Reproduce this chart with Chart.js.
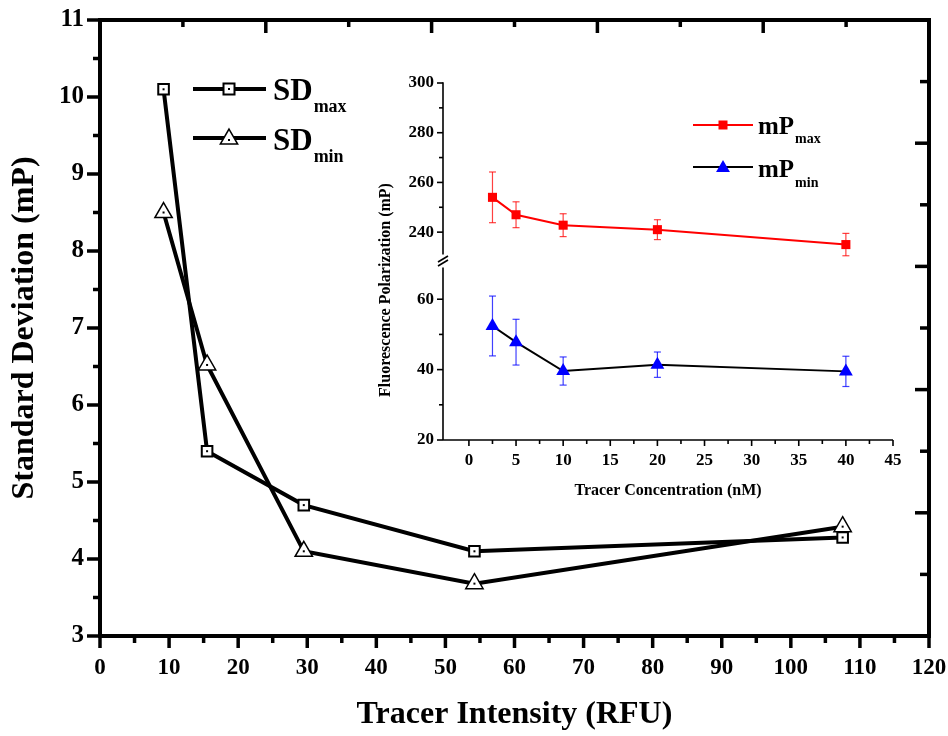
<!DOCTYPE html>
<html>
<head>
<meta charset="utf-8">
<script src="https://cdn.jsdelivr.net/npm/chart.js@4.4.1/dist/chart.umd.min.js"></script>
<style>
  html, body { margin: 0; padding: 0; background: #fff; }
  #contenedor { position: relative; width: 948px; height: 736px; }
  #principal { position: absolute; left: 0; top: 0; }
  #inserto { position: absolute; left: 360px; top: 60px; }
</style>
</head>
<body>
<div id="contenedor">
  <canvas id="principal" width="948" height="736"></canvas>
  <canvas id="inserto" width="560" height="450"></canvas>
</div>
<script>
const fuente = '"Liberation Serif", "Times New Roman", serif';

//1. Datos de la gráfica principal (desviación estándar)
const intensidad = [9.2, 15.5, 29.5, 54.2, 107.5];
const sdMax = [10.1, 5.4, 4.7, 4.1, 4.28];
const sdMin = [8.5, 6.52, 4.1, 3.68, 4.42];

//Datos del gráfico interior (polarización)
const concentracion = [2.5, 5, 10, 20, 40];
const mpMax = [254, 247, 242.8, 241, 235];
const mpMaxErr = [10.2, 5.2, 4.6, 4, 4.5];
const mpMin = [52.4, 47.8, 39.6, 41.4, 39.5];
const mpMinErr = [8.5, 6.5, 4, 3.6, 4.3];

//Etiquetas de los ejes
const ticksConc = [0, 5, 10, 15, 20, 25, 30, 35, 40, 45];
const ticksAlto = [240, 260, 280, 300];
const ticksBajo = [20, 40, 60];

function linea(ctx, x1, y1, x2, y2) {
    ctx.beginPath();
    ctx.moveTo(x1, y1);
    ctx.lineTo(x2, y2);
    ctx.stroke();
}

function cuadrado(ctx, x, y, lado, relleno, borde, grosor) {
    ctx.fillStyle = relleno;
    ctx.fillRect(x - lado / 2, y - lado / 2, lado, lado);
    if (grosor) {
        ctx.strokeStyle = borde;
        ctx.lineWidth = grosor;
        ctx.strokeRect(x - lado / 2, y - lado / 2, lado, lado);
    }
}

function triangulo(ctx, x, y, r, relleno, borde, grosor) {
    ctx.beginPath();
    for (let k = 0; k < 3; k++) {
        const ang = k * 2 * Math.PI / 3;
        ctx.lineTo(x + Math.sin(ang) * r, y - Math.cos(ang) * r);
    }
    ctx.closePath();
    ctx.fillStyle = relleno;
    ctx.fill();
    if (grosor) {
        ctx.strokeStyle = borde;
        ctx.lineWidth = grosor;
        ctx.stroke();
    }
}

function textoSub(ctx, x, y, base, sub, tamBase, tamSub, bajada) {
    ctx.fillStyle = "#000";
    ctx.textAlign = "left";
    ctx.textBaseline = "alphabetic";
    ctx.font = "bold " + tamBase + "px " + fuente;
    ctx.fillText(base, x, y);
    const ancho = ctx.measureText(base).width;
    ctx.font = "bold " + tamSub + "px " + fuente;
    ctx.fillText(sub, x + ancho + 1, y + bajada);
}

//2. Plugin de ejes y leyenda de la gráfica principal
const ejesPrincipal = {
    id: "ejesPrincipal",
    afterDatasetsDraw(chart) {
        const ctx = chart.ctx;
        ctx.save();
        ctx.fillStyle = "#000";
        chart.data.datasets.forEach((ds, i) => {
            chart.getDatasetMeta(i).data.forEach((p) => ctx.fillRect(p.x - 1, p.y - 1, 2, 2));
        });
        ctx.restore();
    },
    afterDraw(chart) {
        const { ctx, chartArea: a, scales: { x, y } } = chart;
        ctx.save();
        ctx.strokeStyle = "#000";
        ctx.lineWidth = 4;
        ctx.strokeRect(a.left, a.top, a.right - a.left, a.bottom - a.top);
        ctx.lineWidth = 3.5;
        for (let v = 0; v <= 120; v += 5) {
            const px = x.getPixelForValue(v);
            linea(ctx, px, a.bottom, px, a.bottom + (v % 10 === 0 ? 12 : 7));
        }
        for (let v = 3; v <= 11; v += 0.5) {
            const py = y.getPixelForValue(v);
            linea(ctx, a.left, py, a.left - (Number.isInteger(v) ? 13 : 7), py);
        }
        //Ejes superior y derecho (marcas hacia dentro)
        for (let k = 1; k < 10; k++) {
            const px = a.left + (a.right - a.left) * k / 10;
            linea(ctx, px, a.top, px, a.top + (k % 2 === 0 ? 13 : 7));
            const py = a.bottom - (a.bottom - a.top) * k / 10;
            linea(ctx, a.right, py, a.right - (k % 2 === 0 ? 14 : 9), py);
        }

        //Leyenda
        ctx.lineWidth = 4;
        linea(ctx, 193, 89, 266, 89);
        cuadrado(ctx, 229, 89, 11, "#fff", "#000", 2);
        ctx.fillStyle = "#000";
        ctx.fillRect(228, 88, 2, 2);
        ctx.lineWidth = 4;
        ctx.strokeStyle = "#000";
        linea(ctx, 193, 138, 266, 138);
        triangulo(ctx, 229, 139, 10, "#fff", "#000", 1.5);
        ctx.fillStyle = "#000";
        ctx.fillRect(228, 139, 2, 2);
        textoSub(ctx, 273, 100, "SD", "max", 31, 18, 12);
        textoSub(ctx, 273, 150, "SD", "min", 31, 18, 12);
        ctx.restore();
    }
};

new Chart(document.getElementById("principal"), {
    type: "line",
    data: {
        datasets: [{
            label: "SDmax",
            data: intensidad.map((x, i) => ({ x: x, y: sdMax[i] })),
            borderColor: "#000",
            borderWidth: 4,
            pointStyle: "rect",
            pointRadius: 7.5,
            pointBackgroundColor: "#fff",
            pointBorderColor: "#000",
            pointBorderWidth: 2,
        }, {
            label: "SDmin",
            data: intensidad.map((x, i) => ({ x: x, y: sdMin[i] })),
            borderColor: "#000",
            borderWidth: 4,
            pointStyle: "triangle",
            pointRadius: 10,
            pointBackgroundColor: "#fff",
            pointBorderColor: "#000",
            pointBorderWidth: 1.5,
        }]
    },
    options: {
        responsive: false,
        animation: false,
        layout: { padding: { top: 20, right: 19, left: 0, bottom: 0 } },
        plugins: { legend: { display: false }, tooltip: { enabled: false } },
        scales: {
            x: {
                type: "linear",
                min: 0,
                max: 120,
                grid: { display: false, drawTicks: false },
                border: { display: false },
                ticks: { stepSize: 10, padding: 18, color: "#000", font: { family: fuente, size: 23, weight: "bold" } },
                title: {
                    display: true,
                    text: "Tracer Intensity (RFU)",
                    color: "#000",
                    font: { family: fuente, size: 32, weight: "bold" },
                    padding: { top: 0, bottom: 2 }
                },
                afterFit: (s) => { s.height = 100; s.paddingLeft = 0; s.paddingRight = 0; }
            },
            y: {
                type: "linear",
                min: 3,
                max: 11,
                grid: { display: false, drawTicks: false },
                border: { display: false },
                ticks: { stepSize: 1, padding: 16, color: "#000", font: { family: fuente, size: 25, weight: "bold" } },
                title: {
                    display: true,
                    text: "Standard Deviation (mP)",
                    color: "#000",
                    font: { family: fuente, size: 32, weight: "bold" },
                    padding: { top: 6, bottom: 0 }
                },
                afterFit: (s) => { s.width = 100; s.paddingTop = 0; s.paddingBottom = 0; }
            }
        }
    },
    plugins: [ejesPrincipal]
});

//3. Gráfico interior con eje Y partido
const ejesInserto = {
    id: "ejesInserto",
    beforeDatasetsDraw(chart) {
        const ctx = chart.ctx;
        ctx.save();
        chart.data.datasets.forEach((ds, i) => {
            const escala = chart.scales[ds.yAxisID];
            ctx.strokeStyle = ds.colorError;
            ctx.lineWidth = 1.2;
            chart.getDatasetMeta(i).data.forEach((p, j) => {
                const v = ds.data[j].y;
                const yA = escala.getPixelForValue(v + ds.errores[j]);
                const yB = escala.getPixelForValue(v - ds.errores[j]);
                linea(ctx, p.x, yA, p.x, yB);
                linea(ctx, p.x - 3.5, yA, p.x + 3.5, yA);
                linea(ctx, p.x - 3.5, yB, p.x + 3.5, yB);
            });
        });
        ctx.restore();
    },
    afterDraw(chart) {
        const { ctx, chartArea: a, scales } = chart;
        const x = scales.x, yA = scales.yAlto, yB = scales.yBajo;
        ctx.save();
        ctx.strokeStyle = "#000";
        ctx.lineWidth = 1.6;
        linea(ctx, a.left, a.bottom, a.right, a.bottom);
        linea(ctx, a.left, yA.getPixelForValue(300) - 0.8, a.left, yA.getPixelForValue(231));
        linea(ctx, a.left, yB.getPixelForValue(69), a.left, a.bottom);
        //Marcas de corte
        const yc = (yA.getPixelForValue(231) + yB.getPixelForValue(69)) / 2;
        linea(ctx, a.left - 5, yc + 1, a.left + 5, yc - 5);
        linea(ctx, a.left - 5, yc + 5, a.left + 5, yc - 1);

        for (let v = 0; v <= 45; v += 2.5) {
            const px = x.getPixelForValue(v);
            linea(ctx, px, a.bottom, px, a.bottom + (v % 5 === 0 ? 6 : 4));
        }
        for (let v = 240; v <= 300; v += 10) {
            const py = yA.getPixelForValue(v);
            linea(ctx, a.left, py, a.left - (v % 20 === 0 ? 6 : 4), py);
        }
        for (let v = 20; v <= 60; v += 10) {
            const py = yB.getPixelForValue(v);
            linea(ctx, a.left, py, a.left - (v % 20 === 0 ? 6 : 4), py);
        }

        //Título del eje Y
        ctx.save();
        ctx.translate(26, 230);
        ctx.rotate(-Math.PI / 2);
        ctx.fillStyle = "#000";
        ctx.font = "bold 16px " + fuente;
        ctx.textAlign = "center";
        ctx.textBaseline = "middle";
        ctx.fillText("Fluorescence Polarization (mP)", 0, 0);
        ctx.restore();

        //Leyenda
        ctx.lineWidth = 2;
        ctx.strokeStyle = "#ff0000";
        linea(ctx, 333, 65, 393, 65);
        cuadrado(ctx, 363, 65, 9, "#ff0000");
        ctx.strokeStyle = "#000";
        linea(ctx, 333, 107, 393, 107);
        triangulo(ctx, 363, 108, 8, "#0000ff");
        textoSub(ctx, 398, 74, "mP", "max", 25, 14, 9);
        textoSub(ctx, 398, 117, "mP", "min", 25, 14, 10);
        ctx.restore();
    }
};

const fuenteInserto = { family: fuente, size: 17, weight: "bold" };

new Chart(document.getElementById("inserto"), {
    type: "line",
    data: {
        datasets: [{
            label: "mPmax",
            data: concentracion.map((x, i) => ({ x: x, y: mpMax[i] })),
            errores: mpMaxErr,
            colorError: "rgba(255,0,0,0.75)",
            yAxisID: "yAlto",
            borderColor: "#ff0000",
            borderWidth: 2,
            pointStyle: "rect",
            pointRadius: 6.4,
            pointBackgroundColor: "#ff0000",
            pointBorderColor: "#ff0000",
            pointBorderWidth: 0,
        }, {
            label: "mPmin",
            data: concentracion.map((x, i) => ({ x: x, y: mpMin[i] })),
            errores: mpMinErr,
            colorError: "rgba(0,0,255,0.75)",
            yAxisID: "yBajo",
            borderColor: "#000",
            borderWidth: 2,
            pointStyle: "triangle",
            pointRadius: 8,
            pointBackgroundColor: "#0000ff",
            pointBorderColor: "#0000ff",
            pointBorderWidth: 0,
        }]
    },
    options: {
        responsive: false,
        animation: false,
        layout: { padding: { top: 23, right: 27, left: 0, bottom: 0 } },
        plugins: { legend: { display: false }, tooltip: { enabled: false } },
        scales: {
            x: {
                type: "linear",
                min: -2.75,
                max: 45,
                afterBuildTicks: (s) => { s.ticks = ticksConc.map((v) => ({ value: v })); },
                grid: { display: false, drawTicks: false },
                border: { display: false },
                ticks: { padding: 10, color: "#000", font: fuenteInserto },
                title: {
                    display: true,
                    text: "Tracer Concentration (nM)",
                    color: "#000",
                    font: { family: fuente, size: 16, weight: "bold" },
                    padding: { top: 0, bottom: 10 }
                },
                afterFit: (s) => { s.height = 70; s.paddingLeft = 0; s.paddingRight = 0; }
            },
            yBajo: {
                type: "linear",
                position: "left",
                stack: "fp",
                stackWeight: 183,
                min: 20,
                max: 72,
                afterBuildTicks: (s) => { s.ticks = ticksBajo.map((v) => ({ value: v })); },
                grid: { display: false, drawTicks: false },
                border: { display: false },
                ticks: { padding: 9, color: "#000", font: fuenteInserto },
                afterFit: (s) => { s.width = 83; s.paddingTop = 0; s.paddingBottom = 0; }
            },
            yAlto: {
                type: "linear",
                position: "left",
                stack: "fp",
                stackWeight: 174,
                min: 230,
                max: 300,
                afterBuildTicks: (s) => { s.ticks = ticksAlto.map((v) => ({ value: v })); },
                grid: { display: false, drawTicks: false },
                border: { display: false },
                ticks: { padding: 9, color: "#000", font: fuenteInserto },
                afterFit: (s) => { s.width = 83; s.paddingTop = 0; s.paddingBottom = 0; }
            }
        }
    },
    plugins: [ejesInserto]
});
</script>
</body>
</html>
